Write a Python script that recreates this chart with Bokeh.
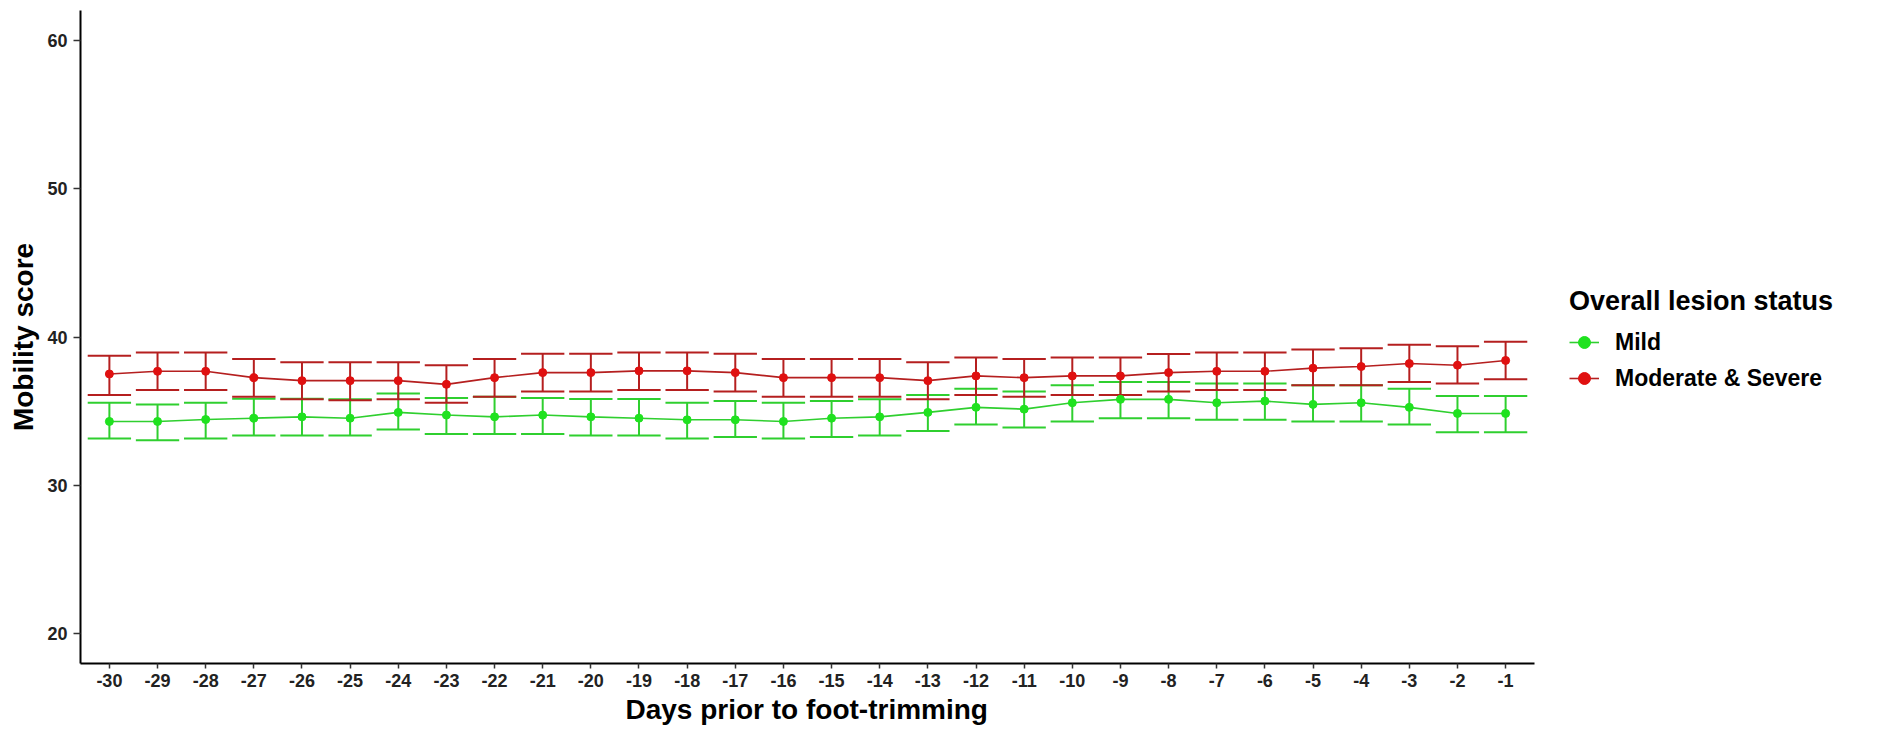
import pandas as pd
from bokeh.plotting import figure
from bokeh.models import (ColumnDataSource, Range1d, FixedTicker, Legend, LegendItem, Title)
from bokeh.embed import file_html
from bokeh.resources import INLINE

# ---- data ----
days = [-30, -29, -28, -27, -26, -25, -24, -23, -22, -21,
        -20, -19, -18, -17, -16, -15, -14, -13, -12, -11,
        -10, -9, -8, -7, -6, -5, -4, -3, -2, -1]
day_labels = ["-30", "-29", "-28", "-27", "-26", "-25", "-24", "-23", "-22", "-21",
              "-20", "-19", "-18", "-17", "-16", "-15", "-14", "-13", "-12", "-11",
              "-10", "-9", "-8", "-7", "-6", "-5", "-4", "-3", "-2", "-1"]

mild_mean = [34.31, 34.31, 34.44, 34.53, 34.62, 34.53, 34.92, 34.74, 34.62, 34.74,
             34.62, 34.53, 34.42, 34.42, 34.31, 34.53, 34.62, 34.92, 35.26, 35.14,
             35.57, 35.80, 35.80, 35.57, 35.68, 35.46, 35.57, 35.26, 34.85, 34.85]
mild_upper = [35.57, 35.46, 35.57, 35.84, 35.84, 35.80, 36.20, 35.89, 35.98, 35.89,
              35.82, 35.82, 35.57, 35.68, 35.57, 35.68, 35.80, 36.09, 36.52, 36.32,
              36.75, 36.97, 36.97, 36.86, 36.86, 36.75, 36.75, 36.52, 36.02, 36.02]
mild_lower = [33.16, 33.04, 33.16, 33.36, 33.36, 33.36, 33.76, 33.47, 33.47, 33.47,
              33.36, 33.36, 33.16, 33.27, 33.16, 33.27, 33.36, 33.67, 34.10, 33.90,
              34.31, 34.53, 34.53, 34.42, 34.42, 34.31, 34.31, 34.10, 33.58, 33.58]

sev_mean = [37.51, 37.69, 37.69, 37.26, 37.06, 37.06, 37.06, 36.81, 37.26, 37.60,
            37.60, 37.72, 37.72, 37.60, 37.26, 37.26, 37.26, 37.06, 37.38, 37.26,
            37.38, 37.38, 37.60, 37.69, 37.69, 37.90, 38.01, 38.21, 38.10, 38.42]
sev_upper = [38.73, 38.96, 38.96, 38.51, 38.30, 38.30, 38.30, 38.10, 38.51, 38.87,
             38.87, 38.96, 38.96, 38.87, 38.51, 38.51, 38.51, 38.30, 38.62, 38.51,
             38.62, 38.62, 38.85, 38.96, 38.96, 39.16, 39.25, 39.48, 39.37, 39.68]
sev_lower = [36.09, 36.43, 36.43, 35.98, 35.80, 35.73, 35.80, 35.57, 35.98, 36.32,
             36.32, 36.43, 36.43, 36.32, 35.98, 35.98, 35.98, 35.80, 36.09, 35.98,
             36.09, 36.09, 36.32, 36.43, 36.43, 36.75, 36.75, 36.97, 36.86, 37.15]

y_ticks = [20, 30, 40, 50, 60]
group_labels = ["Mild", "Moderate & Severe"]
x_title = "Days prior to foot-trimming"
y_title = "Mobility score"
legend_title = "Overall lesion status"

FONT = "Liberation Sans"
CAP_HALF = 0.45
X_LO, X_HI = -30.6, -0.4          # ggplot-style discrete expansion
FRAME_LEFT, PANEL_RIGHT, TOTAL_W = 80, 1534, 1878
# extend the range to the right so the legend can sit inside the frame area
X_END = X_LO + (X_HI - X_LO) * (TOTAL_W - FRAME_LEFT) / (PANEL_RIGHT - FRAME_LEFT)

groups = [
    (group_labels[0], mild_mean, mild_lower, mild_upper, "#2fcf2f", "#1fe21f"),
    (group_labels[1], sev_mean, sev_lower, sev_upper, "#b51f1f", "#e01010"),
]

p = figure(width=TOTAL_W, height=730, output_backend="svg", toolbar_location=None,
           x_range=Range1d(X_LO, X_END), y_range=Range1d(18, 62),
           min_border_left=FRAME_LEFT, min_border_top=10, min_border_bottom=67,
           min_border_right=0)
p.background_fill_color = "white"
p.border_fill_color = "white"
p.outline_line_color = None
p.xgrid.visible = False
p.ygrid.visible = False

sources = []
for name, mean, lo, hi, lcol, pcol in groups:
    df = pd.DataFrame({"day": days, "mean": mean, "lo": lo, "hi": hi})
    df["x0"] = df["day"] - CAP_HALF
    df["x1"] = df["day"] + CAP_HALF
    sources.append(ColumnDataSource(df))

# error bars layer (Mild first, then Moderate & Severe)
for (name, mean, lo, hi, lcol, pcol), src in zip(groups, sources):
    p.segment(x0="day", y0="lo", x1="day", y1="hi", source=src, line_color=lcol, line_width=2)
    p.segment(x0="x0", y0="hi", x1="x1", y1="hi", source=src, line_color=lcol, line_width=2)
    p.segment(x0="x0", y0="lo", x1="x1", y1="lo", source=src, line_color=lcol, line_width=2)

line_rs = []
for (name, mean, lo, hi, lcol, pcol), src in zip(groups, sources):
    line_rs.append(p.line(x="day", y="mean", source=src, line_color=lcol, line_width=1.6))
pt_rs = []
for (name, mean, lo, hi, lcol, pcol), src in zip(groups, sources):
    pt_rs.append(p.scatter(x="day", y="mean", source=src, size=8, fill_color=pcol, line_color=pcol))

items = [LegendItem(label=g[0], renderers=[line_rs[i], pt_rs[i]]) for i, g in enumerate(groups)]

# axes
for ax in (p.xaxis[0], p.yaxis[0]):
    ax.axis_line_color = "black"
    ax.axis_line_width = 2
    ax.major_tick_line_color = "#333333"
    ax.major_tick_line_width = 1.5
    ax.major_tick_in = 0
    ax.major_tick_out = 5
    ax.minor_tick_line_color = None
    ax.major_label_text_font = FONT
    ax.major_label_text_font_style = "bold"
    ax.major_label_text_font_size = "18px"
    ax.major_label_text_color = "#222222"
    ax.axis_label_text_font = FONT
    ax.axis_label_text_font_style = "bold"
    ax.axis_label_text_font_size = "28px"
    ax.axis_label_text_color = "black"

p.xaxis[0].bounds = (X_LO, X_HI)
p.xaxis[0].ticker = FixedTicker(ticks=days)
p.xaxis[0].major_label_overrides = {d: s for d, s in zip(days, day_labels)}
p.yaxis[0].ticker = FixedTicker(ticks=y_ticks)
p.yaxis[0].axis_label = y_title
p.xaxis[0].major_label_standoff = 5
p.yaxis[0].major_label_standoff = 6
p.yaxis[0].axis_label_standoff = 5
p.yaxis[0].major_tick_out = 7

# x-axis title centred under the data panel (not the whole frame)
xt = Title(text=x_title, align="left", offset=545, text_font=FONT,
           text_font_style="bold", text_font_size="28px", text_color="black",
           standoff=4)
p.add_layout(xt, "below")

legend = Legend(items=items, location=(1489, 270), orientation="vertical")
legend.title = legend_title
legend.title_text_font = FONT
legend.title_text_font_style = "bold"
legend.title_text_font_size = "27px"
legend.title_text_color = "black"
legend.title_standoff = 10
legend.label_text_font = FONT
legend.label_text_font_style = "bold"
legend.label_text_font_size = "23px"
legend.label_text_color = "black"
legend.glyph_width = 30
legend.glyph_height = 30
legend.label_height = 30
legend.spacing = 6
legend.label_standoff = 16
legend.border_line_color = None
legend.background_fill_alpha = 0
legend.padding = 0
legend.margin = 0
p.add_layout(legend, "center")

open("out.html", "w").write(file_html(p, INLINE))
